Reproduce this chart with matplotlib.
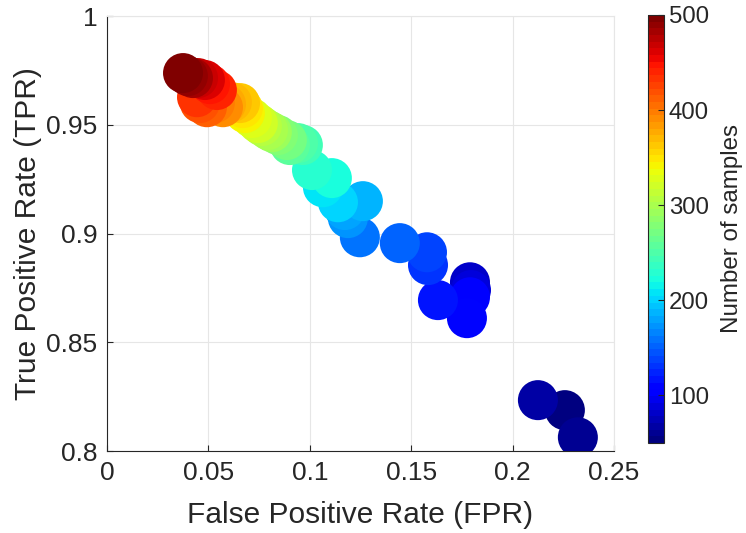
import numpy as np
import matplotlib
matplotlib.use("Agg")
import matplotlib.pyplot as plt

plt.rcParams['font.family'] = ['Liberation Sans', 'DejaVu Sans']

# number of samples for each run
n_samples = [50, 60, 70, 80, 90, 100, 110, 120, 130, 140,
             150, 160, 170, 180, 190, 200, 210, 220, 230, 240,
             250, 260, 270, 280, 290, 300, 310, 320, 330, 340,
             350, 360, 370, 380, 390, 400, 410, 420, 430, 440,
             450, 460, 470, 480, 490, 500]

fpr = [0.2258, 0.2322, 0.2125, 0.1790, 0.1795, 0.1790, 0.1775, 0.1632, 0.1583, 0.1578,
       0.1444, 0.1247, 0.1188, 0.1173, 0.1262, 0.1139, 0.1065, 0.1109, 0.1011, 0.0966,
       0.0942, 0.0902, 0.0887, 0.0843, 0.0813, 0.0794, 0.0764, 0.0744, 0.0715, 0.0680,
       0.0670, 0.0656, 0.0616, 0.0587, 0.0572, 0.0532, 0.0493, 0.0458, 0.0444, 0.0542,
       0.0508, 0.0483, 0.0449, 0.0424, 0.0399, 0.0375]

tpr = [0.8188, 0.8063, 0.8234, 0.8776, 0.8740, 0.8707, 0.8611, 0.8694, 0.8855, 0.8914,
       0.8956, 0.8983, 0.9071, 0.9108, 0.9149, 0.9144, 0.9213, 0.9255, 0.9292, 0.9407,
       0.9416, 0.9407, 0.9430, 0.9453, 0.9466, 0.9476, 0.9494, 0.9508, 0.9531, 0.9554,
       0.9577, 0.9600, 0.9604, 0.9595, 0.9581, 0.9600, 0.9581, 0.9600, 0.9627, 0.9660,
       0.9687, 0.9706, 0.9715, 0.9715, 0.9724, 0.9738]

xticks = [0, 0.05, 0.1, 0.15, 0.2, 0.25]
xticklabels = ['0', '0.05', '0.1', '0.15', '0.2', '0.25']
yticks = [0.8, 0.85, 0.9, 0.95, 1.0]
yticklabels = ['0.8', '0.85', '0.9', '0.95', '1']
cticks = [100, 200, 300, 400, 500]

txt = (0.15, 0.15, 0.15)

fig = plt.figure(figsize=(7.46, 5.33), dpi=100)
ax = fig.add_axes([0.1434, 0.1538, 0.6796, 0.816])

cmap = plt.get_cmap('jet', 64)
sc = ax.scatter(fpr, tpr, c=n_samples, cmap=cmap, vmin=50, vmax=500,
                s=830, linewidths=0, zorder=3)

ax.set_xlim(0, 0.25)
ax.set_ylim(0.8, 1.0)
ax.set_xticks(xticks)
ax.set_xticklabels(xticklabels)
ax.set_yticks(yticks)
ax.set_yticklabels(yticklabels)
ax.grid(True, color=(0.9, 0.9, 0.9), linewidth=0.8, zorder=0)
ax.set_axisbelow(True)

# MATLAB style: box off, light edges at top/right
for side in ['top', 'right']:
    ax.spines[side].set_color((0.9, 0.9, 0.9))
for side in ['left', 'bottom']:
    ax.spines[side].set_color(txt)
ax.tick_params(direction='in', length=4, width=0.8, colors=txt,
               labelsize=19, top=False, right=False, pad=7)
ax.set_xlabel('False Positive Rate (FPR)', fontsize=21.5, color=txt, labelpad=12)
ax.set_ylabel('True Positive Rate (TPR)', fontsize=21.5, color=txt, labelpad=3)

cax = fig.add_axes([0.8686, 0.1689, 0.0214, 0.803])
cb = fig.colorbar(sc, cax=cax, ticks=cticks)
cb.outline.set_edgecolor(txt)
cb.outline.set_linewidth(0.8)
cax.tick_params(direction='in', length=4, width=0.8, colors=txt, labelsize=17.3)
cb.set_label('Number of samples', fontsize=17.4, color=txt, labelpad=9)

fig.savefig('out.png', dpi=100)
